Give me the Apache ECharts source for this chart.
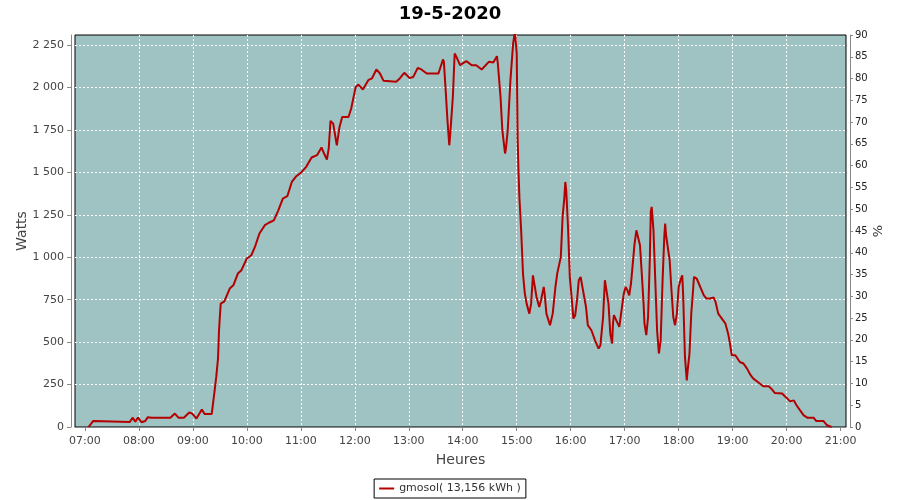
<!DOCTYPE html>
<html>
<head>
<meta charset="utf-8">
<script src="https://cdn.jsdelivr.net/npm/echarts@6/dist/echarts.min.js"></script>
<style>html,body{margin:0;padding:0;background:#fff}#c{width:900px;height:500px}</style>
</head>
<body>
<div id="c"></div>
<script>
// Readings (time of day, watts)
const times = [
"07:04","07:07","07:09","07:10","07:50","07:53","07:56","07:59","08:03","08:07","08:10","08:14","08:35","08:40","08:44","08:46","08:50","08:56","08:59","09:04","09:08","09:10","09:12","09:13","09:21","09:22",
"09:24","09:26","09:28","09:29","09:30","09:31","09:35","09:37","09:41","09:45","09:50","09:54","10:00","10:05","10:09","10:14","10:20","10:25","10:30","10:35","10:40","10:45","10:50","10:55",
"11:01","11:06","11:12","11:18","11:23","11:26","11:29","11:31","11:33","11:36","11:40","11:43","11:46","11:53","11:56","12:01","12:04","12:09","12:15","12:19","12:24","12:28","12:32","12:46","12:50","12:55",
"13:01","13:05","13:10","13:14","13:20","13:33","13:38","13:39","13:41","13:43","13:45","13:46","13:49","13:51","13:53","13:57","14:04","14:10","14:15","14:21","14:29","14:34","14:38","14:39","14:42","14:44","14:47","14:48","14:50","14:53","14:56","14:58",
"15:00","15:01","15:02","15:03","15:05","15:07","15:09","15:11","15:14","15:16","15:18","15:19","15:22","15:25","15:27","15:30","15:31","15:33","15:37","15:40","15:43","15:45","15:47","15:49","15:51","15:53","15:54","15:55","15:57","15:59",
"16:01","16:03","16:05","16:07","16:09","16:11","16:13","16:17","16:19","16:23","16:27","16:31","16:33","16:36","16:38","16:40","16:42","16:44","16:46","16:47","16:48","16:50","16:54","16:56","16:59",
"17:01","17:03","17:05","17:07","17:09","17:11","17:13","17:15","17:17","17:19","17:21","17:22","17:24","17:26","17:28","17:29","17:30","17:32","17:34","17:36","17:38","17:40","17:42","17:44","17:45","17:46","17:50","17:52","17:54","17:56","17:58",
"18:00","18:02","18:04","18:05","18:07","18:09","18:10","18:12","18:14","18:16","18:17","18:20","18:24","18:28","18:31","18:35","18:39","18:41","18:44","18:48","18:52","18:55","18:57","18:59",
"19:03","19:05","19:08","19:12","19:16","19:20","19:23","19:28","19:34","19:40","19:43","19:47","19:55","19:58",
"20:04","20:08","20:11","20:15","20:19","20:23","20:30","20:33","20:41","20:45","20:50"
];
const watts = [
0,20,35,30,30,55,32,55,28,35,58,55,55,79,55,44,55,85,80,50,85,103,100,77,77,87,
206,295,405,560,650,727,740,747,816,835,904,924,993,1012,1061,1140,1189,1205,1218,1277,1346,1360,1444,1478,
1503,1533,1588,1602,1647,1610,1576,1640,1804,1788,1660,1768,1827,1827,1877,2004,2018,1989,2044,2054,2107,2083,2040,2034,2054,2087,
2057,2063,2116,2107,2083,2083,2166,2152,1985,1808,1660,1720,1945,2201,2181,2132,2156,2132,2132,2107,2152,2148,2185,2142,1945,1749,1612,1641,1749,2044,2260,2330,
2200,1700,1500,1350,1150,900,786,727,668,727,894,884,766,707,747,825,786,668,600,668,825,904,914,1002,1238,1356,1444,1395,1179,884,
766,639,659,747,865,884,825,707,600,570,511,462,482,648,865,875,727,550,492,609,659,668,590,600,786,
825,806,776,845,963,1081,1159,1169,1071,904,727,609,541,648,1002,1267,1297,1159,865,570,433,511,845,1120,1199,1130,982,806,648,600,668,
825,865,894,776,413,275,334,433,668,806,884,875,825,776,757,757,763,737,668,639,609,550,492,423,
423,433,383,374,344,305,285,265,240,240,226,200,197,181,
151,157,128,98,69,55,55,35,35,10,0
];
const leftTicks = [0,250,500,750,1000,1250,1500,1750,2000,2250];
const rightTicks = [0,5,10,15,20,25,30,35,40,45,50,55,60,65,70,75,80,85,90];
const seriesName = "gmosol( 13,156 kWh )";
const titleText = "19-5-2020";

// minute categories spanning the x axis (06:49 .. 21:06)
const pad = n => (n < 10 ? "0" : "") + n;
const categories = [];
for (let m = 6 * 60 + 49; m <= 21 * 60 + 6; m++) categories.push(pad(Math.floor(m / 60)) + ":" + pad(m % 60));
const isHour = (i, v) => v.endsWith(":00");

const chart = echarts.init(document.getElementById("c"), null, { renderer: "canvas" });
const FONT = "DejaVu Sans";
chart.setOption({
  animation: false,
  backgroundColor: "#fff",
  title: {
    text: titleText, left: "center", top: 0, padding: [5, 5],
    textStyle: { fontFamily: FONT, fontSize: 18, fontWeight: "bold", color: "#000" }
  },
  legend: {
    bottom: 2, left: "center", data: [seriesName],
    borderColor: "#000", borderWidth: 1, borderRadius: 0, padding: [4, 5],
    icon: "rect", itemWidth: 15, itemHeight: 2, itemGap: 4,
    textStyle: { fontFamily: FONT, fontSize: 11, color: "#333" }
  },
  grid: {
    left: 75, right: 54, top: 35, bottom: 73, show: true,
    backgroundColor: "#9ec3c2", borderColor: "#000", borderWidth: 1
  },
  xAxis: {
    type: "category", data: categories, boundaryGap: false, offset: 4,
    name: "Heures", nameLocation: "middle", nameGap: 22, nameMoveOverlap: false,
    nameTextStyle: { fontFamily: FONT, fontSize: 14, color: "#444" },
    axisLine: { lineStyle: { color: "#888" } },
    axisTick: { interval: isHour, length: 4, lineStyle: { color: "#888" } },
    axisLabel: { interval: isHour, margin: 5, fontFamily: FONT, fontSize: 11, color: "#444" },
    splitLine: { show: true, interval: isHour, showMinLine: false, showMaxLine: false,
      lineStyle: { color: "#fff", type: [2, 2], width: 1 } }
  },
  yAxis: [{
    type: "value", min: 0, max: 2310, interval: 250, offset: 4, position: "left",
    name: "Watts", nameLocation: "middle", nameGap: 42, nameRotate: 90, nameMoveOverlap: false,
    nameTextStyle: { fontFamily: FONT, fontSize: 14, color: "#444" },
    axisLine: { show: true, lineStyle: { color: "#888" } },
    axisTick: { show: true, length: 4, lineStyle: { color: "#888" } },
    axisLabel: {
      margin: 7, fontFamily: FONT, fontSize: 11, color: "#444", showMaxLabel: false,
      formatter: v => leftTicks.includes(v) ? String(v).replace(/\B(?=(\d{3})+(?!\d))/g, " ") : ""
    },
    splitLine: { show: true, showMinLine: false, showMaxLine: false,
      lineStyle: { color: "#fff", type: [2, 2], width: 1 } }
  }, {
    type: "value", min: 0, max: 90, interval: 5, offset: 4, position: "right",
    name: "%", nameLocation: "middle", nameGap: 22, nameRotate: 90, nameMoveOverlap: false,
    nameTextStyle: { fontFamily: FONT, fontSize: 13, color: "#333" },
    axisLine: { show: true, lineStyle: { color: "#888" } },
    axisTick: { show: true, length: 3, lineStyle: { color: "#888" } },
    axisLabel: {
      margin: 5, fontFamily: FONT, fontSize: 10, color: "#222",
      formatter: v => rightTicks.includes(v) ? String(v) : ""
    },
    splitLine: { show: false }
  }],
  series: [{
    name: seriesName, type: "line", yAxisIndex: 0,
    data: times.map((t, i) => [t, watts[i]]),
    showSymbol: false, symbol: "none", clip: true,
    lineStyle: { color: "#b40000", width: 2 },
    itemStyle: { color: "#b40000" }
  }]
});
</script>
</body>
</html>
